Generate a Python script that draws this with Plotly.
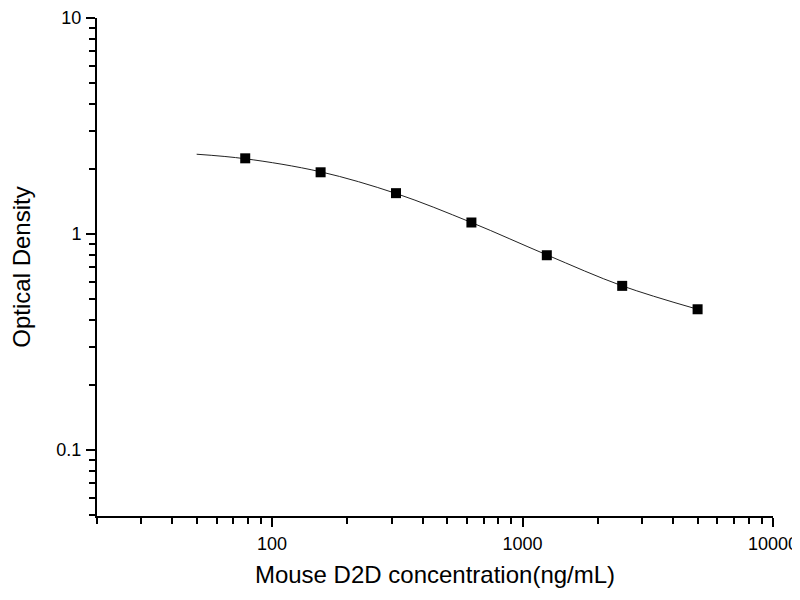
import plotly.graph_objects as go

# Standard points
conc = [78.125, 156.25, 312.5, 625, 1250, 2500, 5000]
od = [2.24, 1.93, 1.545, 1.13, 0.797, 0.575, 0.448]

# Fitted curve
curve_x = [50, 78.125, 156.25, 312.5, 625, 1250, 2500, 5000]
curve_y = [2.34, 2.23, 1.94, 1.54, 1.13, 0.80, 0.575, 0.448]

x_ticks = [100, 1000, 10000]
x_labels = ["100", "1000", "10000"]
y_ticks = [0.1, 1, 10]
y_labels = ["0.1", "1", "10"]

font = "Liberation Sans, Arial, sans-serif"

fig = go.Figure()
fig.add_trace(go.Scatter(x=curve_x, y=curve_y, mode="lines",
                         line=dict(color="#222222", width=1, shape="spline"),
                         showlegend=False, hoverinfo="skip"))
fig.add_trace(go.Scatter(x=conc, y=od, mode="markers",
                         marker=dict(symbol="square", size=10, color="black"),
                         showlegend=False))

axis_common = dict(showline=True, linecolor="black", linewidth=2,
                   ticks="outside", ticklen=9, tickwidth=2, tickcolor="black",
                   showgrid=False, zeroline=False, mirror=False,
                   tickfont=dict(family=font, size=18, color="black"),
                   ticklabelstandoff=1, ticklabeloverflow="allow")

fig.update_xaxes(type="log", range=[1.30103, 4.0], tickvals=x_ticks, ticktext=x_labels,
                 minor=dict(ticks="outside", ticklen=6, tickwidth=2, tickcolor="black",
                            dtick="D1", showgrid=False),
                 title=dict(text="Mouse D2D concentration(ng/mL)",
                            font=dict(family=font, size=24, color="black"), standoff=16),
                 **axis_common)
fig.update_yaxes(type="log", range=[-1.306, 1.0], tickvals=y_ticks, ticktext=y_labels,
                 minor=dict(ticks="outside", ticklen=6, tickwidth=2, tickcolor="black",
                            dtick="D1", showgrid=False),
                 title=dict(text="Optical Density",
                            font=dict(family=font, size=24, color="black"), standoff=22),
                 **axis_common)

# page has an 8px body margin, so the figure is offset by 8px
fig.update_layout(width=792, height=580, plot_bgcolor="white", paper_bgcolor="white",
                  margin=dict(l=89, r=27, t=10, b=72, autoexpand=False))

fig.write_html("out.html")
